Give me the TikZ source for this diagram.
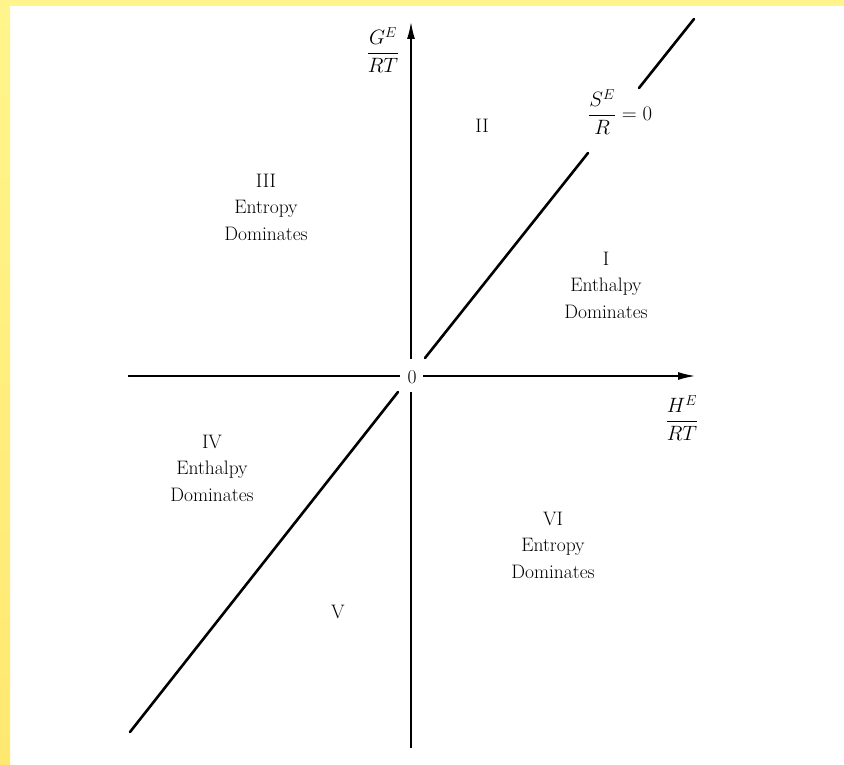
\documentclass[tikz,border=0pt]{standalone}
\usetikzlibrary{arrows.meta}
\definecolor{bandtop}{RGB}{255,245,140}
\definecolor{bandbot}{RGB}{255,232,112}
\begin{document}
\begin{tikzpicture}[x=1pt,y=-1pt,font=\fontsize{19.5}{26.5}\selectfont,
  axis/.style={line width=1.4pt},
  axisarrow/.style={line width=1.4pt,-{Latex[length=17pt,width=8pt]}},
  diag/.style={line width=2.6pt,line cap=round},
  region/.style={align=center,inner sep=0pt},
  lab/.style={inner sep=0pt}]
\useasboundingbox (0,0) rectangle (844,765);
\fill[white] (0,0) rectangle (844,765);
\shade[top color=bandtop,bottom color=bandbot] (0,0) rectangle (10,765);
\fill[bandtop] (0,0) rectangle (844,6);
% axis coordinates
\coordinate (xl) at (128,376);
\coordinate (xlg) at (400,376);
\coordinate (xrg) at (423,376);
\coordinate (xr) at (695,376);
\coordinate (yb) at (411,748);
\coordinate (ybg) at (411,392);
\coordinate (ytg) at (411,359);
\coordinate (yt) at (411,22);
% diagonal S^E/R = 0
\coordinate (d1) at (130,732);
\coordinate (d2) at (398,392);
\coordinate (d3) at (425,358);
\coordinate (d4) at (588,153);
\coordinate (d5) at (639,88);
\coordinate (d6) at (694,19);
\draw[axis] (xl) -- (xlg);
\draw[axisarrow] (xrg) -- (xr);
\draw[axis] (yb) -- (ybg);
\draw[axisarrow] (ytg) -- (yt);
\draw[diag] (d1) -- (d2);
\draw[diag] (d3) -- (d4);
\draw[diag] (d5) -- (d6);
% labels
\node[lab] (zero) at (412,377) {0};
\node[lab] (ylab) at (383,50) {$\displaystyle\frac{G^E}{RT}$};
\node[lab] (xlab) at (682,418) {$\displaystyle\frac{H^E}{RT}$};
\node[lab,anchor=west] (slab) at (588,112) {$\displaystyle\frac{S^E}{R}=0$};
\node[region] (r2) at (482,126) {II};
\node[region] (r3) at (266,207) {III\\Entropy\\Dominates};
\node[region] (r1) at (606,285) {I\\Enthalpy\\Dominates};
\node[region] (r4) at (212,468) {IV\\Enthalpy\\Dominates};
\node[region] (r6) at (553,545) {VI\\Entropy\\Dominates};
\node[region] (r5) at (338,612) {V};
\end{tikzpicture}
\end{document}
